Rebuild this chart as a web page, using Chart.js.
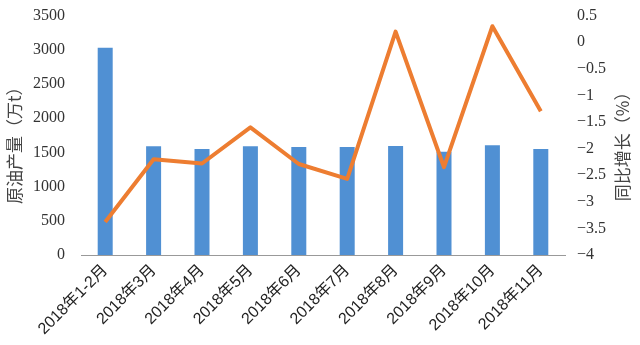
<!DOCTYPE html>
<html lang="zh">
<head>
  <meta charset="UTF-8">
  <title>原油产量</title>
  <script src="https://cdn.jsdelivr.net/npm/chart.js"></script>
  <style>
    html, body { margin: 0; padding: 0; background: #fff; overflow: hidden; }
    /* canvas shifted up a little so the plot top sits where the reference has it */
    #wrap { width: 640px; height: 355px; margin-top: -10px; }
  </style>
</head>
<body>
  <div id="wrap"><canvas id="myChart"></canvas></div>

  <script>
    // data
    const months = ['2018年1-2月', '2018年3月', '2018年4月', '2018年5月', '2018年6月',
                    '2018年7月', '2018年8月', '2018年9月', '2018年10月', '2018年11月'];
    const output = [3030, 1590, 1550, 1590, 1580, 1580, 1595, 1510, 1605, 1548];
    const growth = [-3.38, -2.2, -2.28, -1.6, -2.29, -2.57, 0.2, -2.35, 0.3, -1.3];

    const serif = '"Liberation Serif", "Noto Sans CJK SC", serif';
    const sans = '"Liberation Sans", "Noto Sans CJK SC", sans-serif';

    // both axis titles read bottom-to-top, so draw them by hand
    const axisTitles = {
      id: 'axisTitles',
      afterDraw(chart) {
        const c = chart.ctx;
        const mid = (chart.chartArea.top + chart.chartArea.bottom) / 2;
        c.save();
        c.font = '17px "Noto Sans CJK SC", sans-serif';
        c.fillStyle = '#444';
        c.textAlign = 'center';
        c.textBaseline = 'middle';
        c.translate(15, mid + 6);
        c.rotate(-Math.PI / 2);
        c.fillText('原油产量（万t）', 0, 0);
        c.restore();

        c.save();
        c.font = '17px "Noto Sans CJK SC", sans-serif';
        c.fillStyle = '#444';
        c.textAlign = 'center';
        c.textBaseline = 'middle';
        c.translate(623, mid + 7);
        c.rotate(-Math.PI / 2);
        c.fillText('同比增长（%）', 0, 0);
        c.restore();
      }
    };

    const ctx = document.getElementById('myChart').getContext('2d');
    new Chart(ctx, {
      data: {
        labels: months,
        datasets: [
          {
            type: 'line',
            label: '同比增长',
            data: growth,
            yAxisID: 'y1',
            borderColor: '#ED7D31',
            borderWidth: 4,
            pointRadius: 0,
            tension: 0,
            borderJoinStyle: 'round',
            order: 0
          },
          {
            type: 'bar',
            label: '原油产量',
            data: output,
            yAxisID: 'y',
            backgroundColor: '#5090D3',
            barPercentage: 0.62,
            categoryPercentage: 0.5,
            order: 1
          }
        ]
      },
      options: {
        responsive: true,
        maintainAspectRatio: false,
        animation: false,
        plugins: {
          legend: { display: false },
          tooltip: { enabled: false }
        },
        scales: {
          x: {
            grid: { display: false, drawTicks: false },
            border: { display: true, color: '#999', width: 1 },
            ticks: {
              color: '#222',
              font: { family: sans, size: 16 },
              maxRotation: 45,
              minRotation: 45,
              padding: 6
            },
            afterFit(s) { s.height = 90; }
          },
          y: {
            position: 'left',
            min: 0,
            max: 3500,
            grid: { display: false, drawTicks: false },
            border: { display: false },
            ticks: {
              stepSize: 500,
              color: '#333',
              font: { family: serif, size: 16 },
              padding: 16,
              callback: v => String(v)
            },
            afterFit(s) { s.width = 81; }
          },
          y1: {
            position: 'right',
            min: -4,
            max: 0.5,
            grid: { display: false, drawTicks: false },
            border: { display: false },
            ticks: {
              stepSize: 0.5,
              color: '#333',
              font: { family: serif, size: 16 },
              padding: 12,
              callback: v => String(v).replace('-', '−')
            },
            afterFit(s) { s.width = 75; }
          }
        }
      },
      plugins: [axisTitles]
    });
  </script>
</body>
</html>
